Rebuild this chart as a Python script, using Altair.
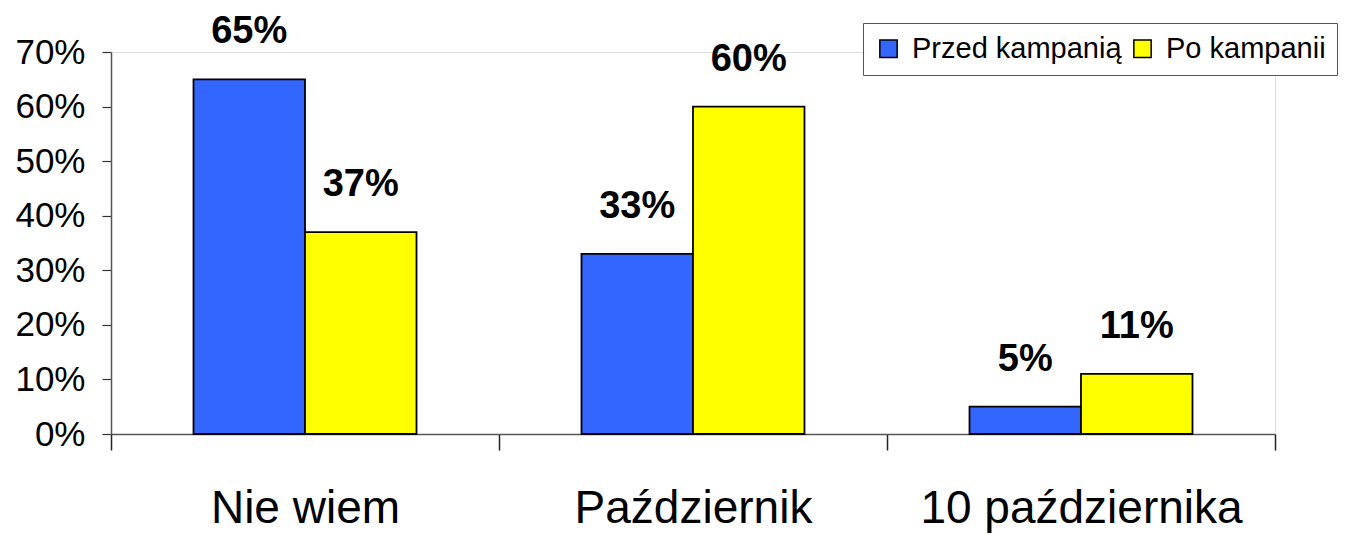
import altair as alt
import pandas as pd

categories = ["Nie wiem", "Październik", "10 października"]
series = ["Przed kampanią", "Po kampanii"]
before = [0.65, 0.33, 0.05]
after = [0.37, 0.60, 0.11]
colors = ["#3366FF", "#FFFF00"]

rows = []
for c, b, a in zip(categories, before, after):
    rows.append({"cat": c, "series": series[0], "value": b})
    rows.append({"cat": c, "series": series[1], "value": a})
df = pd.DataFrame(rows)

FONT = "Liberation Sans"

x = alt.X("cat:N", sort=categories, title=None,
          scale=alt.Scale(paddingInner=0, paddingOuter=0),
          axis=alt.Axis(labelAngle=0, labelFontSize=46, labelColor="black",
                        labelPadding=36, labelLimit=0, tickBand="extent", tickSize=16,
                        tickColor="#222222", domainColor="#555555",
                        domainWidth=1.5, tickWidth=1.5, grid=False,
                        labelFont=FONT))
xo = alt.XOffset("series:N", sort=series,
                 scale=alt.Scale(paddingInner=0, paddingOuter=0.74))
y = alt.Y("value:Q", title=None,
          scale=alt.Scale(domain=[0, 0.7], nice=False),
          axis=alt.Axis(format=".0%", values=[0, 0.1, 0.2, 0.3, 0.4, 0.5, 0.6, 0.7],
                        labelFontSize=35, labelColor="black", labelPadding=17,
                        labelLimit=0,
                        tickSize=9, tickColor="#333333", domainColor="#555555",
                        domainWidth=1.5, tickWidth=1.2, grid=False, labelFont=FONT))

bars = alt.Chart(df).mark_bar(stroke="black", strokeWidth=1.8).encode(
    x=x, xOffset=xo, y=y,
    color=alt.Color("series:N", sort=series, title=None,
                    scale=alt.Scale(domain=series, range=colors),
                    legend=alt.Legend(orient="none", legendX=752, legendY=-29,
                                      direction="horizontal", symbolType="square",
                                      symbolSize=300, symbolStrokeColor="black",
                                      symbolStrokeWidth=1.5, labelFontSize=29,
                                      labelFont=FONT, labelColor="black",
                                      labelLimit=0,
                                      labelOffset=9, columnPadding=6,
                                      padding=11, strokeColor="#555555",
                                      fillColor="white")),
)

labels = alt.Chart(df).mark_text(fontSize=38, fontWeight="bold", baseline="bottom",
                                 dy=-28, font=FONT, color="black").encode(
    x=alt.X("cat:N", sort=categories), xOffset=alt.XOffset("series:N", sort=series),
    y="value:Q",
    text=alt.Text("value:Q", format=".0%"),
)

chart = alt.layer(bars, labels).properties(
    width=1164, height=382,
    autosize=alt.AutoSizeParams(type="none"),
    padding={"left": 103, "top": 44, "right": 66, "bottom": 101},
).configure_view(strokeWidth=0).configure(font=FONT)

chart.save("out.html", embed_options={"renderer": "svg", "actions": False})
